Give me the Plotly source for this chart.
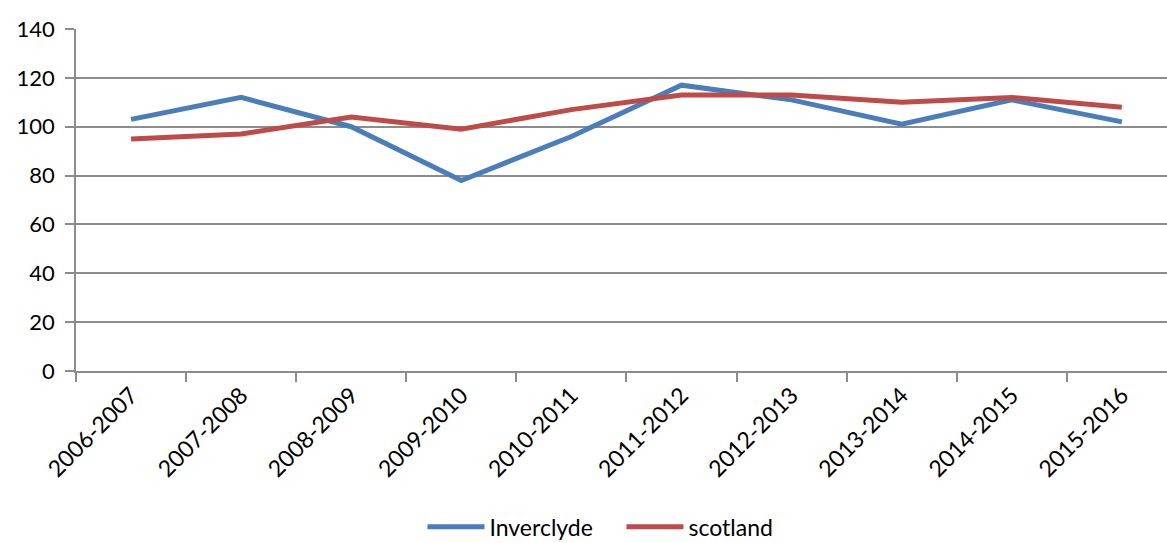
import plotly.graph_objects as go

categories = ["2006-2007", "2007-2008", "2008-2009", "2009-2010", "2010-2011",
              "2011-2012", "2012-2013", "2013-2014", "2014-2015", "2015-2016"]
inverclyde = [103, 112, 100, 78, 96, 117, 111, 101, 111, 102]
scotland = [95, 97, 104, 99, 107, 113, 113, 110, 112, 108]
y_ticks = [0, 20, 40, 60, 80, 100, 120, 140]

FONT = "Lato"
GRID = "#8c8c8c"

fig = go.Figure()
fig.add_trace(go.Scatter(x=categories, y=inverclyde, mode="lines", name="Inverclyde",
                         line=dict(color="#4A7EBB", width=5)))
fig.add_trace(go.Scatter(x=categories, y=scotland, mode="lines", name="scotland",
                         line=dict(color="#BE4B48", width=5)))

fig.update_layout(
    width=1167, height=543,
    margin=dict(l=76, r=0, t=29, b=172, autoexpand=False),
    paper_bgcolor="white", plot_bgcolor="white",
    font=dict(family=FONT, size=22, color="black"),
    showlegend=True,
    legend=dict(orientation="h", x=0.362, xanchor="left", xref="container",
                y=0.03, yanchor="middle", yref="container",
                font=dict(size=23, family=FONT),
                itemwidth=57, entrywidth=127, entrywidthmode="pixels",
                tracegroupgap=0),
)
fig.update_xaxes(
    type="category", range=[-0.5, 9.41], automargin=False,
    tickangle=-45, tickson="boundaries", ticks="outside", ticklen=9,
    tickcolor=GRID, tickwidth=1.5,
    showline=True, linecolor=GRID, linewidth=1.5,
    showgrid=False, zeroline=False,
    tickfont=dict(size=23, family=FONT),
)
fig.update_yaxes(
    range=[0, 140], tickvals=y_ticks, ticks="outside", ticklen=9, automargin=False,
    tickcolor=GRID, tickwidth=1.5,
    showline=True, linecolor=GRID, linewidth=1.5,
    showgrid=True, gridcolor=GRID, gridwidth=1.5, zeroline=False,
    tickfont=dict(size=22, family=FONT), ticklabelstandoff=6,
)

fig.write_html("out.html")
